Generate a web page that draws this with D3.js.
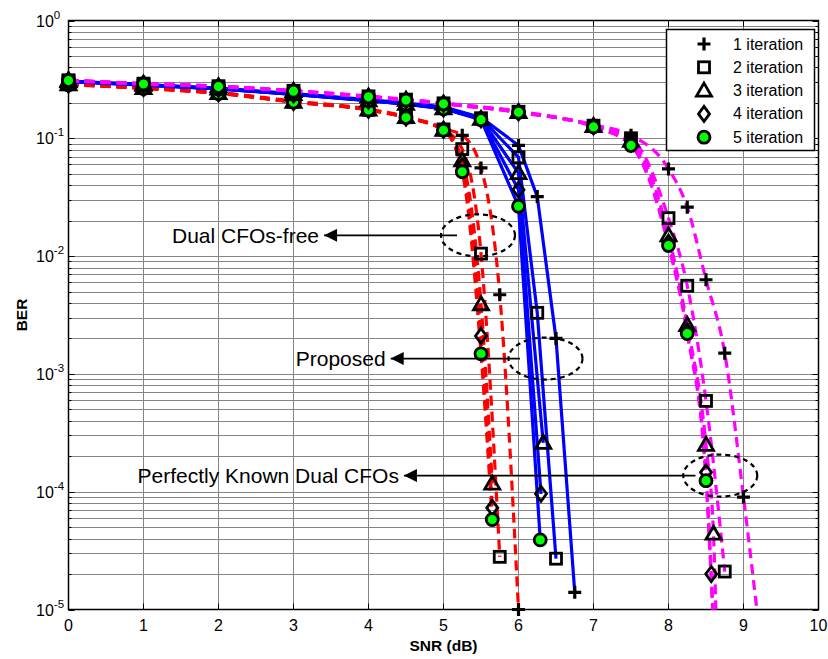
<!DOCTYPE html>
<html>
<head>
<meta charset="utf-8">
<script src="https://cdn.jsdelivr.net/npm/d3@7"></script>
<style>
  body { margin: 0; background: #fff; }
  text { font-family: "Liberation Sans", Arial, sans-serif; }
</style>
</head>
<body>
<div id="chart"></div>
<script>
// iteration names and marker shapes
var iterations = ['1 iteration', '2 iteration', '3 iteration', '4 iteration', '5 iteration'];
var markers = ['plus', 'square', 'triangle', 'diamond', 'circle'];

// Dual CFOs-free (red dashed)
var redSnr = [
    [0, 1, 2, 3, 4, 4.5, 5, 5.25, 5.5, 5.75, 6],
    [0, 1, 2, 3, 4, 4.5, 5, 5.25, 5.5, 5.75],
    [0, 1, 2, 3, 4, 4.5, 5, 5.25, 5.5, 5.65],
    [0, 1, 2, 3, 4, 4.5, 5, 5.25, 5.5, 5.65],
    [0, 1, 2, 3, 4, 4.5, 5, 5.25, 5.5, 5.65]
];
var redBer = [
    [0.29, 0.27, 0.245, 0.207, 0.177, 0.153, 0.121, 0.106, 0.056, 4.7e-3, 1e-5],
    [0.288, 0.268, 0.243, 0.205, 0.175, 0.151, 0.119, 0.081, 0.0105, 2.8e-5],
    [0.287, 0.267, 0.242, 0.204, 0.175, 0.151, 0.118, 0.065, 3.9e-3, 1.17e-4],
    [0.286, 0.266, 0.241, 0.203, 0.174, 0.150, 0.118, 0.058, 2.1e-3, 7.3e-5],
    [0.285, 0.265, 0.240, 0.203, 0.174, 0.150, 0.117, 0.052, 1.48e-3, 5.8e-5]
];

// Proposed (blue solid)
var blueSnr = [
    [0, 1, 2, 3, 4, 4.5, 5, 5.5, 6, 6.25, 6.5, 6.75],
    [0, 1, 2, 3, 4, 4.5, 5, 5.5, 6, 6.25, 6.5],
    [0, 1, 2, 3, 4, 4.5, 5, 5.5, 6, 6.33],
    [0, 1, 2, 3, 4, 4.5, 5, 5.5, 6, 6.3],
    [0, 1, 2, 3, 4, 4.5, 5, 5.5, 6, 6.29]
];
var blueBer = [
    [0.306, 0.286, 0.266, 0.24, 0.213, 0.199, 0.185, 0.15, 0.087, 0.032, 2.0e-3, 1.4e-5],
    [0.305, 0.285, 0.265, 0.238, 0.211, 0.197, 0.182, 0.148, 0.069, 3.3e-3, 2.7e-5],
    [0.304, 0.284, 0.264, 0.237, 0.21, 0.196, 0.18, 0.146, 0.0506, 2.6e-4],
    [0.304, 0.284, 0.263, 0.236, 0.209, 0.195, 0.179, 0.145, 0.0366, 9.6e-5],
    [0.303, 0.283, 0.263, 0.236, 0.209, 0.195, 0.178, 0.144, 0.0265, 3.9e-5]
];

// Perfectly Known Dual CFOs (magenta dashed)
var magSnr = [
    [0, 1, 2, 3, 4, 4.5, 5, 6, 7, 7.5, 8, 8.25, 8.5, 8.75, 9, 9.25],
    [0, 1, 2, 3, 4, 4.5, 5, 6, 7, 7.5, 8, 8.25, 8.5, 8.75],
    [0, 1, 2, 3, 4, 4.5, 5, 6, 7, 7.5, 8, 8.25, 8.5, 8.6, 8.64],
    [0, 1, 2, 3, 4, 4.5, 5, 6, 7, 7.5, 8, 8.25, 8.5, 8.57, 8.6],
    [0, 1, 2, 3, 4, 4.5, 5, 6, 7, 7.5, 8, 8.25, 8.5, 8.6]
];
var magBer = [
    [0.312, 0.292, 0.278, 0.254, 0.228, 0.214, 0.199, 0.17, 0.13, 0.106, 0.055, 0.026, 6.3e-3, 1.5e-3, 9e-5, 4e-6],
    [0.311, 0.291, 0.277, 0.253, 0.227, 0.213, 0.198, 0.168, 0.128, 0.1, 0.021, 5.6e-3, 5.9e-4, 2.1e-5],
    [0.31, 0.29, 0.276, 0.252, 0.226, 0.212, 0.197, 0.167, 0.127, 0.095, 0.015, 2.6e-3, 2.5e-4, 4.4e-5, 6e-6],
    [0.31, 0.29, 0.275, 0.251, 0.225, 0.211, 0.196, 0.166, 0.126, 0.09, 0.013, 2.3e-3, 1.46e-4, 2.0e-5, 7e-6],
    [0.309, 0.289, 0.275, 0.251, 0.225, 0.211, 0.196, 0.166, 0.125, 0.087, 0.0123, 2.2e-3, 1.24e-4, 7e-6]
];

// axis ticks
var xTicks = [0, 1, 2, 3, 4, 5, 6, 7, 8, 9, 10];
var yExponents = [0, -1, -2, -3, -4, -5];

// annotations: label, ellipse centre (data units), label position (data units)
var notes = [
    { label: 'Dual CFOs-free', cx: 5.46, cy: 0.015, tx: 1.38, arrowFrom: 5.18 },
    { label: 'Proposed', cx: 6.36, cy: 1.35e-3, tx: 3.03, arrowFrom: 6.02 },
    { label: 'Perfectly Known Dual CFOs', cx: 8.69, cy: 1.37e-4, tx: 0.92, arrowFrom: 8.36 }
];

var width = 828, height = 659;
var pLeft = 68.5, pRight = 818.5, pTop = 20.5, pBottom = 609.5;

var svg = d3.select('#chart').append('svg')
    .attr('width', width)
    .attr('height', height);

var x = d3.scaleLinear().domain([0, 10]).range([pLeft, pRight]);
var y = d3.scaleLog().domain([1e-5, 1]).range([pBottom, pTop]);

svg.append('defs').append('clipPath').attr('id', 'plot')
    .append('rect')
    .attr('x', pLeft).attr('y', pTop)
    .attr('width', pRight - pLeft).attr('height', pBottom - pTop);

// grid
var minorVals = [];
for (var e = -5; e < 0; e++) {
    for (var k = 1; k < 10; k++) minorVals.push(k * Math.pow(10, e));
}
minorVals.push(1);
svg.append('g').selectAll('line').data(minorVals.slice(1, -1)).enter().append('line')
    .attr('x1', pLeft).attr('x2', pRight)
    .attr('y1', d => Math.round(y(d)) + 0.5).attr('y2', d => Math.round(y(d)) + 0.5)
    .attr('stroke', '#858585').attr('stroke-width', 1);
svg.append('g').selectAll('line').data(xTicks.slice(1, -1)).enter().append('line')
    .attr('x1', d => x(d)).attr('x2', d => x(d))
    .attr('y1', pTop).attr('y2', pBottom)
    .attr('stroke', '#858585').attr('stroke-width', 1);

// ticks (inward, all four sides)
var ticks = svg.append('g').attr('stroke', '#000').attr('stroke-width', 1);
xTicks.forEach(function (t) {
    ticks.append('line').attr('x1', x(t)).attr('x2', x(t)).attr('y1', pBottom).attr('y2', pBottom - 6);
    ticks.append('line').attr('x1', x(t)).attr('x2', x(t)).attr('y1', pTop).attr('y2', pTop + 6);
});
minorVals.forEach(function (v) {
    var len = (Math.abs(Math.log10(v) - Math.round(Math.log10(v))) < 1e-9) ? 6 : 3;
    var yy = Math.round(y(v)) + 0.5;
    ticks.append('line').attr('x1', pLeft).attr('x2', pLeft + len).attr('y1', yy).attr('y2', yy);
    ticks.append('line').attr('x1', pRight).attr('x2', pRight - len).attr('y1', yy).attr('y2', yy);
});

// frame
svg.append('rect')
    .attr('x', pLeft).attr('y', pTop)
    .attr('width', pRight - pLeft).attr('height', pBottom - pTop)
    .attr('fill', 'none').attr('stroke', '#000').attr('stroke-width', 1.5);

// tick labels
svg.append('g').selectAll('text').data(xTicks).enter().append('text')
    .attr('x', d => x(d)).attr('y', 631)
    .attr('text-anchor', 'middle').attr('font-size', 16)
    .text(d => d);

var yLab = svg.append('g').selectAll('text').data(yExponents).enter().append('text')
    .attr('x', 36).attr('y', d => y(Math.pow(10, d)) + 6)
    .attr('font-size', 16);
yLab.append('tspan').text('10');
yLab.append('tspan').attr('dy', -8).attr('font-size', 11.5).text(d => d === 0 ? '0' : d);

// axis labels
svg.append('text')
    .attr('x', (pLeft + pRight) / 2).attr('y', 651)
    .attr('text-anchor', 'middle').attr('font-size', 15.5).attr('font-weight', 'bold')
    .text('SNR (dB)');
svg.append('text')
    .attr('transform', 'translate(27,' + ((pTop + pBottom) / 2) + ') rotate(-90)')
    .attr('text-anchor', 'middle').attr('font-size', 15.5).attr('font-weight', 'bold')
    .text('BER');

// marker drawing
function drawMarker(g, type, cx, cy) {
    if (type === 'plus') {
        g.append('path').attr('d', 'M' + (cx - 6.5) + ',' + cy + 'H' + (cx + 6.5) + 'M' + cx + ',' + (cy - 6.5) + 'V' + (cy + 6.5))
            .attr('fill', 'none').attr('stroke', '#000').attr('stroke-width', 3.2);
    } else if (type === 'square') {
        g.append('rect').attr('x', cx - 5.5).attr('y', cy - 5.5).attr('width', 11).attr('height', 11)
            .attr('fill', 'none').attr('stroke', '#000').attr('stroke-width', 2.8);
    } else if (type === 'triangle') {
        g.append('path').attr('d', 'M' + cx + ',' + (cy - 7.5) + 'L' + (cx + 7.5) + ',' + (cy + 5.5) + 'L' + (cx - 7.5) + ',' + (cy + 5.5) + 'Z')
            .attr('fill', 'none').attr('stroke', '#000').attr('stroke-width', 2.8).attr('stroke-linejoin', 'miter');
    } else if (type === 'diamond') {
        g.append('path').attr('d', 'M' + cx + ',' + (cy - 7.5) + 'L' + (cx + 5.5) + ',' + cy + 'L' + cx + ',' + (cy + 7.5) + 'L' + (cx - 5.5) + ',' + cy + 'Z')
            .attr('fill', 'none').attr('stroke', '#000').attr('stroke-width', 2.8);
    } else {
        g.append('circle').attr('cx', cx).attr('cy', cy).attr('r', 6)
            .attr('fill', '#00ff00').attr('stroke', '#000').attr('stroke-width', 2.8);
    }
}

var groups = [
    { snr: redSnr, ber: redBer, color: '#ff0000', dash: '10,6', curve: d3.curveMonotoneX },
    { snr: blueSnr, ber: blueBer, color: '#0000ff', dash: null, curve: d3.curveLinear },
    { snr: magSnr, ber: magBer, color: '#ff00ff', dash: '10,6', curve: d3.curveMonotoneX }
];

var lineLayer = svg.append('g').attr('clip-path', 'url(#plot)');
var markLayer = svg.append('g');

groups.forEach(function (grp) {
    grp.snr.forEach(function (xs, i) {
        var pts = xs.map((v, j) => [v, grp.ber[i][j]]);
        var line = d3.line().x(d => x(d[0])).y(d => y(d[1])).curve(grp.curve);
        lineLayer.append('path').datum(pts)
            .attr('d', line)
            .attr('fill', 'none')
            .attr('stroke', grp.color)
            .attr('stroke-width', 3.2)
            .attr('stroke-dasharray', grp.dash);
    });
});
groups.forEach(function (grp) {
    grp.snr.forEach(function (xs, i) {
        xs.forEach(function (v, j) {
            var b = grp.ber[i][j];
            if (b >= 1e-5) drawMarker(markLayer, markers[i], x(v), y(b));
        });
    });
});

// annotations
var ann = svg.append('g');
ann.append('defs').append('marker')
    .attr('id', 'arrow').attr('viewBox', '0 0 10 10')
    .attr('refX', 10).attr('refY', 5)
    .attr('markerWidth', 19).attr('markerHeight', 13)
    .attr('markerUnits', 'userSpaceOnUse')
    .attr('orient', 'auto')
    .append('path').attr('d', 'M0,0L10,5L0,10Z').attr('fill', '#000');

notes.forEach(function (n) {
    var cy = y(n.cy);
    ann.append('ellipse')
        .attr('cx', x(n.cx)).attr('cy', cy).attr('rx', 37).attr('ry', 21)
        .attr('fill', 'none').attr('stroke', '#000').attr('stroke-width', 2.2)
        .attr('stroke-dasharray', '5,4');
    var t = ann.append('text')
        .attr('x', x(n.tx)).attr('y', cy + 7.5)
        .attr('font-size', 21)
        .text(n.label);
    var tEnd = t.node().getComputedTextLength() + x(n.tx);
    ann.append('line')
        .attr('x1', x(n.arrowFrom)).attr('y1', cy)
        .attr('x2', tEnd + 5).attr('y2', cy)
        .attr('stroke', '#000').attr('stroke-width', 1.8)
        .attr('marker-end', 'url(#arrow)');
});

// legend
var leg = svg.append('g');
leg.append('rect')
    .attr('x', 666.5).attr('y', 29.5).attr('width', 148).attr('height', 121)
    .attr('fill', '#fff').attr('stroke', '#000').attr('stroke-width', 1.5);
iterations.forEach(function (name, i) {
    var ly = 44 + i * 23.3;
    drawMarker(leg, markers[i], 704, ly);
    leg.append('text')
        .attr('x', 733).attr('y', ly + 5.5)
        .attr('font-size', 16)
        .text(name);
});
</script>
</body>
</html>
